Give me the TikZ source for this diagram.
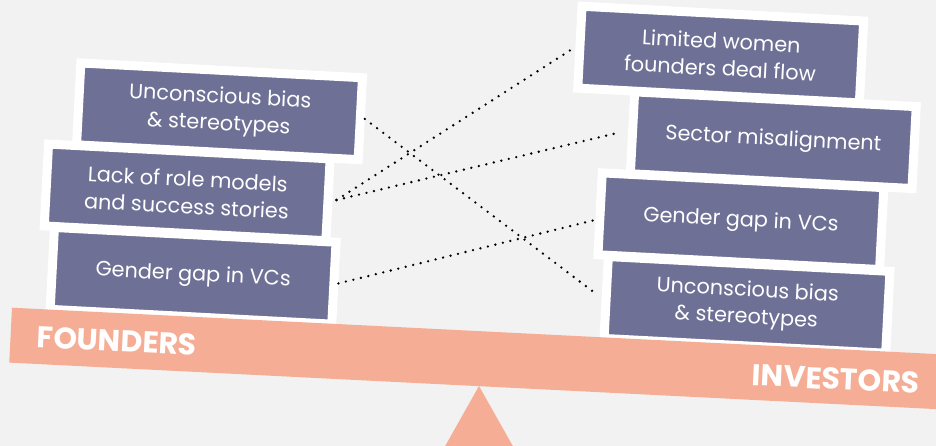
\documentclass[tikz,border=0pt]{standalone}
\usepackage{fontspec}
\setmainfont{Poppins}
\definecolor{slate}{HTML}{6E7195}
\definecolor{salmon}{HTML}{F5AE95}
\definecolor{paper}{HTML}{F2F2F2}
\begin{document}
\begin{tikzpicture}[x=1pt,y=-1pt,
  box/.style={fill=slate,draw=white,line width=9pt,minimum width=282pt,minimum height=82pt,
    inner sep=0pt,align=center,text=white,font=\fontsize{20.8}{27}\selectfont,rotate=-3},
  link/.style={line width=2.6pt,line cap=round,dash pattern=on 0pt off 7.7pt},
  side/.style={text=white,font=\bfseries\fontsize{30}{30}\selectfont,rotate=-2.87}]

\fill[paper] (0,0) rectangle (936,446);
\clip (0,0) rectangle (936,446);

% founders side
\node[box] (uba) at (219.5,111.3) {Unconscious bias\\\& stereotypes};
\node[box] (lrm) at (187.2,192.4) {Lack of role models\\and success stories};
\node[box] (gga) at (193.1,275.8) {Gender gap in VCs};

% investors side
\node[box] (lwf) at (720.7,54.6) {Limited women\\founders deal flow};
\node[box] (smi) at (773.3,140.2) {Sector misalignment};
\node[box] (ggb) at (740.9,221.2) {Gender gap in VCs};
\node[box] (ubb) at (747,304.9) {Unconscious bias\\\& stereotypes};

% seesaw
\fill[salmon] (479,386) -- (426,480) -- (532,480) -- cycle;
\fill[salmon] (12,307.7) -- (980.8,356.3) -- (978,411.2) -- (9.25,362.6) -- cycle;
\node[side] (fo) at (117,341) {FOUNDERS};
\node[side] (in) at (836,379) {INVESTORS};

% links
\draw[link] (uba.east) -- ([shift={(-5,-3)}]ubb.west);
\draw[link] ([xshift=4pt]lrm.east) -- (lwf.west);
\draw[link] ([xshift=4pt]lrm.east) -- ([xshift=-9pt]smi.west);
\draw[link] (gga.east) -- ([shift={(-3,7)}]ggb.west);

\end{tikzpicture}
\end{document}
